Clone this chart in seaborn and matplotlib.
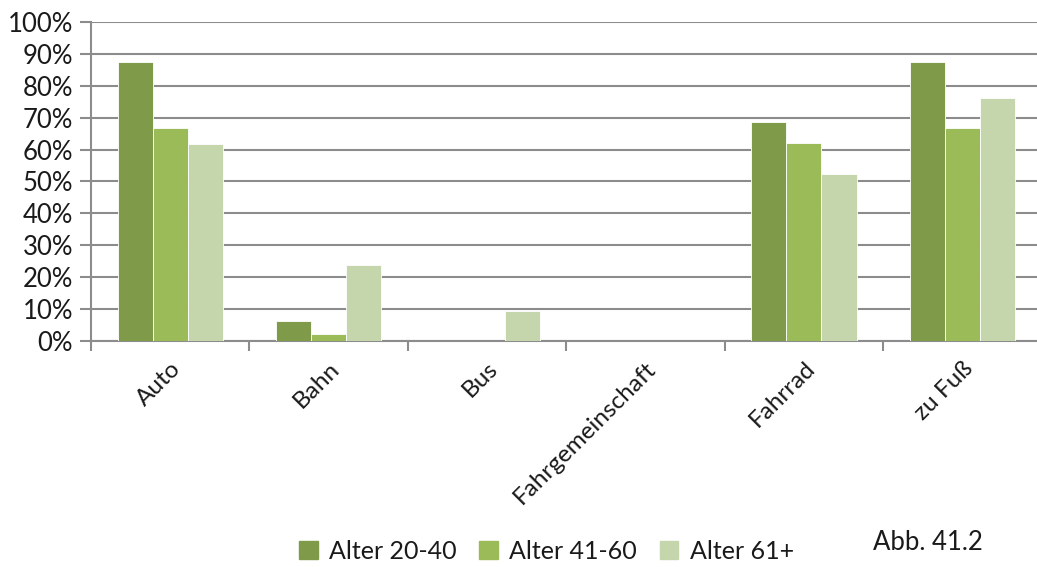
import matplotlib
matplotlib.use("Agg")
import matplotlib.pyplot as plt
from matplotlib.ticker import FixedLocator, PercentFormatter
import seaborn as sns
import pandas as pd

# Verkehrsmittelnutzung nach Altersgruppe (Anteil in %)
categories = ["Auto", "Bahn", "Bus", "Fahrgemeinschaft", "Fahrrad", "zu Fuß"]
groups = ["Alter 20-40", "Alter 41-60", "Alter 61+"]
alter_20_40 = [87.5, 6.25, 0.0, 0.0, 68.75, 87.5]
alter_41_60 = [66.7, 2.2, 0.0, 0.0, 62.2, 66.7]
alter_61_plus = [61.9, 23.8, 9.5, 0.0, 52.4, 76.2]
colors = ["#7F9A48", "#9BBB59", "#C6D6AC"]

rows = []
for grp, vals in zip(groups, [alter_20_40, alter_41_60, alter_61_plus]):
    for cat, v in zip(categories, vals):
        rows.append({"Kategorie": cat, "Gruppe": grp, "Anteil": v})
df = pd.DataFrame(rows)

sns.set_theme(style="white")
plt.rcParams["font.family"] = ["Lato", "DejaVu Sans"]
text_color = "#1A1A1A"
grid_color = "#8C8C8C"

fig = plt.figure(figsize=(10.37, 5.67), dpi=100)
ax = fig.add_axes([0.0878, 0.3986, 0.9165, 0.5626])

sns.barplot(data=df, x="Kategorie", y="Anteil", hue="Gruppe",
            palette=colors, saturation=1, width=0.665, ax=ax, legend=False,
            edgecolor="white", linewidth=0.6, errorbar=None, zorder=3)

ax.set_ylim(0, 100)
ax.set_xlim(-0.5, 5.5)
ax.yaxis.set_major_locator(FixedLocator(range(0, 101, 10)))
ax.yaxis.set_major_formatter(PercentFormatter(decimals=0))
ax.grid(axis="y", color=grid_color, linewidth=1.5, zorder=0)
ax.set_axisbelow(True)

# Category labels at centres, tick marks at group boundaries
ax.set_xticks(range(len(categories)))
ax.set_xticklabels(categories, rotation=45, ha="right", rotation_mode="anchor")
ax.xaxis.set_minor_locator(FixedLocator([i - 0.5 for i in range(len(categories) + 1)]))
ax.tick_params(axis="x", which="major", length=0, pad=12, labelsize=17.5,
               labelcolor=text_color)
ax.tick_params(axis="x", which="minor", length=7, width=1.5, color=grid_color,
               direction="out", bottom=True)
ax.tick_params(axis="y", length=8, width=1.5, color=grid_color, left=True,
               labelsize=18.5, labelcolor=text_color, pad=5)

ax.set_xlabel("")
ax.set_ylabel("")
for side in ["top", "right"]:
    ax.spines[side].set_visible(False)
for side in ["left", "bottom"]:
    ax.spines[side].set_color(grid_color)
    ax.spines[side].set_linewidth(1.5)

handles = [plt.Rectangle((0, 0), 1, 1, color=c) for c in colors]
fig.legend(handles, groups, loc="center", bbox_to_anchor=(0.527, 0.028),
           ncol=3, frameon=False, fontsize=18, handlelength=0.75,
           handleheight=0.75, handletextpad=0.45, columnspacing=0.9,
           labelcolor=text_color)

fig.text(0.842, 0.043, "Abb. 41.2", fontsize=18.5, color=text_color,
         ha="left", va="center")

fig.savefig("out.png", dpi=100)
